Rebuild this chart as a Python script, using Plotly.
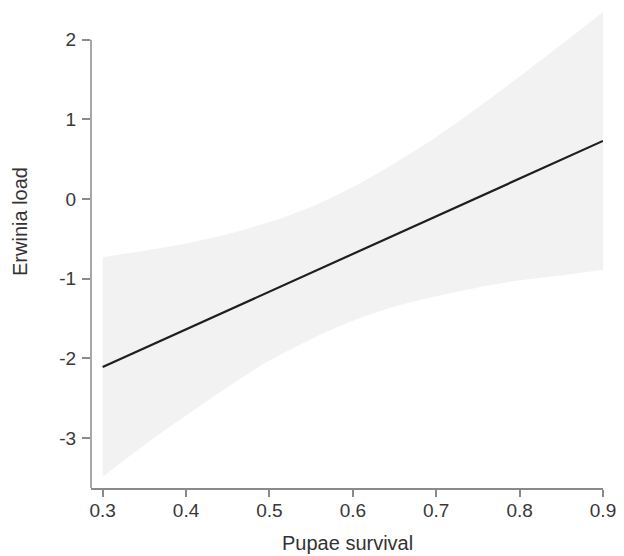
import plotly.graph_objects as go

# Data
x_grid = [0.30, 0.35, 0.40, 0.45, 0.50, 0.55, 0.60, 0.65, 0.70, 0.75, 0.80, 0.85, 0.90]
upper = [-0.73, -0.65, -0.56, -0.44, -0.29, -0.10, 0.15, 0.45, 0.78, 1.15, 1.54, 1.94, 2.35]
lower = [-3.49, -3.09, -2.72, -2.36, -2.03, -1.76, -1.53, -1.35, -1.22, -1.11, -1.02, -0.96, -0.89]
fit_x = [0.30, 0.90]
fit_y = [-2.11, 0.73]

x_ticks = [0.3, 0.4, 0.5, 0.6, 0.7, 0.8, 0.9]
x_tick_labels = ["0.3", "0.4", "0.5", "0.6", "0.7", "0.8", "0.9"]
y_ticks = [-3, -2, -1, 0, 1, 2]
y_tick_labels = ["-3", "-2", "-1", "0", "1", "2"]

x_title = "Pupae survival"
y_title = "Erwinia load"

W, H = 624, 556
ml, mr, mt, mb = 91, 21, 5, 68
x_range = [0.286, 0.9]
y_range = [-3.63, 2.437]

FONT = "Liberation Sans, Arial, Helvetica, sans-serif"
AXC = "#8a8a8a"
TXT = "#383838"

fig = go.Figure()
fig.add_trace(go.Scatter(x=x_grid, y=lower, mode="lines",
                         line=dict(width=0, color="#f2f2f2", shape="spline", smoothing=0.8),
                         hoverinfo="skip", showlegend=False))
fig.add_trace(go.Scatter(x=x_grid, y=upper, mode="lines",
                         line=dict(width=0, color="#f2f2f2", shape="spline", smoothing=0.8),
                         fill="tonexty", fillcolor="#f2f2f2", hoverinfo="skip", showlegend=False))
fig.add_trace(go.Scatter(x=fit_x, y=fit_y, mode="lines", line=dict(width=2.2, color="#1e1e1e"),
                         showlegend=False))

# y axis line only spans up to the top tick
fig.add_shape(type="line", xref="paper", yref="y", x0=0, x1=0, y0=y_range[0], y1=max(y_ticks),
              line=dict(color=AXC, width=1.5))

fig.update_layout(
    width=W, height=H,
    margin=dict(l=ml, r=mr, t=mt, b=mb, pad=0),
    paper_bgcolor="white", plot_bgcolor="white",
    font=dict(family=FONT, color=TXT, size=19),
    xaxis=dict(range=x_range, tickvals=x_ticks, ticktext=x_tick_labels,
               showgrid=False, zeroline=False, showline=True, linecolor=AXC, linewidth=1.5,
               ticks="outside", ticklen=7, tickwidth=1.5, tickcolor=AXC,
               ticklabelstandoff=-3, tickfont=dict(size=19, color=TXT)),
    yaxis=dict(range=y_range, tickvals=y_ticks, ticktext=y_tick_labels,
               showgrid=False, zeroline=False, showline=False,
               ticks="outside", ticklen=8, tickwidth=1.5, tickcolor=AXC,
               ticklabelstandoff=2, tickfont=dict(size=19, color=TXT)),
    annotations=[
        dict(text=x_title, xref="paper", yref="paper", x=0.5, y=(488 - 543) / 483,
             xanchor="center", yanchor="middle", showarrow=False,
             font=dict(size=20, color="#333333", family=FONT)),
        dict(text=y_title, xref="paper", yref="paper", x=(20 - 91) / 512, y=(488 - 222) / 483,
             xanchor="center", yanchor="middle", showarrow=False, textangle=-90,
             font=dict(size=20, color="#333333", family=FONT)),
    ],
)

fig.write_html("out.html")
